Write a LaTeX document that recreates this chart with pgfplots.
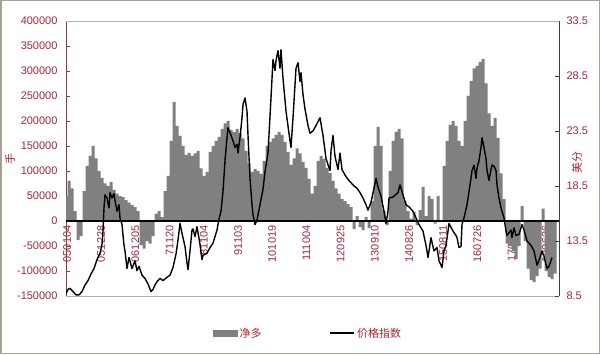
\documentclass[border=0pt]{standalone}
\usepackage{pgfplots}
\pgfplotsset{compat=1.18}
\usepackage{fontspec}
\setmainfont{Liberation Sans}
\newfontfamily\cjk{Noto Sans CJK SC}
\definecolor{tickred}{RGB}{160,40,55}
\definecolor{leftline}{RGB}{140,60,60}
\definecolor{framecol}{RGB}{168,162,148}
\definecolor{bargray}{RGB}{128,128,128}
\begin{document}
\begin{tikzpicture}[x=1pt,y=1pt]
\useasboundingbox (0,0) rectangle (600,354);
\draw[framecol, line width=1.5pt] (0.75,0.75) rectangle (599.25,353.25);
\begin{axis}[
 at={(66pt,58pt)}, anchor=south west, scale only axis, width=493pt, height=275pt,
 xmin=0, xmax=493, ymin=-150000, ymax=400000,
 axis y line*=left, axis x line*=bottom,
 y axis line style={leftline, line width=0.8pt},
 x axis line style={gray!60, line width=0.8pt},
 ytick={-150000,-100000,...,400000},
 scaled y ticks=false,
 yticklabel style={/pgf/number format/fixed, /pgf/number format/1000 sep={}, /pgf/number format/assume math mode=true, text=tickred, font=\fontsize{11}{13}\selectfont, xshift=-5pt},
 xtick={1,35.2,69.4,103.6,137.8,172,206.2,240.4,274.6,308.8,343,377.2,411.4,445.6,479.8},
 xticklabels={050104,051228,061205,71120,81104,91103,101019,111004,120925,130910,140826,150811,160726,170711,180626},
 xticklabel style={rotate=90, anchor=east, text=tickred, font=\fontsize{11}{13}\selectfont},
 xticklabel shift=-74pt,
 x tick style={draw=none},
 tick align=inside, major tick length=4pt,
 y tick style={leftline},
 ylabel={\cjk 手},
 ylabel style={at={(axis description cs:-0.113,0.5)}, anchor=center, text=tickred, font=\fontsize{11}{13}\selectfont},
]
\addplot[ybar, bar width=3, fill=bargray, draw=none, forget plot] coordinates {
(0,50000)(3,80000)(6,65000)(9,20000)(12,-38000)(15,-30000)(18,60000)(21,110000)(24,130000)(27,150000)(30,125000)(33,100000)(36,86000)(39,75000)(42,70000)(45,78000)(48,62000)(51,55000)(54,50000)(57,48000)(60,42000)(63,37000)(66,32000)(69,28000)(72,20000)(75,-48000)(78,-55000)(81,-40000)(84,-45000)(87,-30000)(90,15000)(93,20000)(96,8000)(99,60000)(102,90000)(105,160000)(108,238000)(111,190000)(114,170000)(117,150000)(120,132000)(123,136000)(126,130000)(129,135000)(132,140000)(135,105000)(138,90000)(141,98000)(144,138000)(147,150000)(150,160000)(153,168000)(156,184000)(159,195000)(162,200000)(165,182000)(168,178000)(171,184000)(174,176000)(177,165000)(180,140000)(183,115000)(186,98000)(189,104000)(192,100000)(195,94000)(198,120000)(201,150000)(204,158000)(207,165000)(210,172000)(213,178000)(216,172000)(219,158000)(222,138000)(225,112000)(228,125000)(231,145000)(234,135000)(237,118000)(240,106000)(243,84000)(246,55000)(249,70000)(252,120000)(255,130000)(258,124000)(261,106000)(264,96000)(267,80000)(270,65000)(273,55000)(276,44000)(279,40000)(282,34000)(285,28000)(288,-16000)(291,10000)(294,-12000)(297,-18000)(300,8000)(303,-14000)(306,40000)(309,150000)(312,188000)(315,150000)(318,20000)(321,-8000)(324,100000)(327,160000)(330,178000)(333,184000)(336,165000)(339,40000)(342,20000)(345,5000)(348,18000)(351,-8000)(354,22000)(357,68000)(360,10000)(363,50000)(366,44000)(369,-5000)(372,50000)(375,0)(378,110000)(381,160000)(384,192000)(387,200000)(390,190000)(393,160000)(396,150000)(399,200000)(402,250000)(405,280000)(408,305000)(411,310000)(414,318000)(417,324000)(420,275000)(423,215000)(426,190000)(429,206000)(432,166000)(435,95000)(438,44000)(441,-45000)(444,-50000)(447,-60000)(450,-76000)(453,-50000)(456,30000)(459,-40000)(462,-95000)(465,-118000)(468,-122000)(471,-110000)(474,-95000)(477,25000)(480,-100000)(483,-112000)(486,-116000)(489,-105000)
};
\addplot[black, line width=2.5pt, forget plot] coordinates {(0,0) (493,0)};
\end{axis}
\begin{axis}[
 at={(66pt,58pt)}, anchor=south west, scale only axis, width=493pt, height=275pt,
 xmin=0, xmax=493, ymin=8.5, ymax=33.5,
 axis y line*=right, axis x line*=top,
 y axis line style={black!75, line width=0.8pt},
 x axis line style={gray!60, line width=0.8pt},
 xtick=\empty,
 ytick={8.5,13.5,18.5,23.5,28.5,33.5},
 yticklabel style={/pgf/number format/fixed, /pgf/number format/precision=1, /pgf/number format/fixed zerofill, /pgf/number format/assume math mode=true, text=tickred, font=\fontsize{11}{13}\selectfont, xshift=4pt},
 tick align=inside, major tick length=4pt,
 y tick style={black!75},
 ylabel={\cjk 美分},
 ylabel style={at={(axis description cs:1.0365,0.484)}, anchor=center, text=tickred, font=\fontsize{11}{13}\selectfont},
 legend columns=2,
 legend style={draw=none, fill=none, at={(axis description cs:0.491,-0.135)}, anchor=center, font=\cjk\fontsize{11}{13}\selectfont, text=tickred, /tikz/every even column/.append style={column sep=66pt}},
]
\addlegendimage{legend image code/.code={\fill[bargray] (0pt,-3pt) rectangle (24pt,3pt);}}
\addlegendentry{净多}
\addplot[black, line width=1.4pt, line join=round, legend image code/.code={\draw[black, line width=1.5pt] (0pt,0pt) -- (24pt,0pt);}] coordinates {
(0,8.7)(2,9.1)(4,9.2)(7,8.9)(10,8.6)(13,8.6)(16,8.9)(19,9.5)(22,9.9)(25,10.5)(28,11.0)(31,11.8)(34,12.4)(36,13.2)(37,14.4)(38,16.5)(39,17.7)(41,17.4)(43,16.5)(44,17.9)(46,17.4)(48,17.8)(49,17.2)(51,16.2)(53,16.8)(54,15.6)(56,15.0)(58,13.1)(59,12.6)(61,11.0)(63,12.0)(66,11.0)(69,11.7)(71,10.8)(73,11.2)(76,10.4)(79,10.1)(82,9.6)(85,8.9)(87,9.1)(89,9.5)(91,9.8)(94,10.1)(97,9.9)(101,10.2)(104,10.4)(107,11.1)(110,12.3)(112,13.6)(114,15.1)(116,14.2)(119,13.0)(121,11.5)(122,10.9)(124,12.6)(126,14.5)(127,14.6)(129,13.9)(131,14.8)(134,13.2)(136,11.8)(137,12.2)(141,12.4)(144,12.9)(147,13.3)(151,14.5)(153,15.5)(155,16.2)(157,18.0)(159,20.8)(161,22.9)(162,23.8)(165,23.1)(167,22.6)(169,22.0)(171,22.3)(172,21.5)(174,22.9)(176,24.7)(177,25.9)(179,26.5)(181,25.3)(182,23.1)(184,19.2)(186,16.8)(187,15.9)(189,15.0)(191,15.4)(194,16.8)(197,18.2)(199,19.8)(202,21.5)(205,26.5)(207,30.0)(209,29.0)(210,29.9)(212,30.8)(214,29.2)(215,30.9)(217,28.3)(220,25.3)(224,22.6)(225,22.0)(227,24.7)(230,29.2)(232,29.7)(234,28.0)(235,28.8)(237,26.8)(239,25.5)(242,24.0)(244,23.3)(247,23.5)(250,24.0)(254,24.7)(257,23.1)(260,21.0)(264,19.9)(265,21.7)(267,23.1)(269,21.2)(272,20.0)(274,21.5)(276,20.0)(279,19.5)(282,19.1)(285,18.8)(288,18.5)(291,18.3)(294,17.9)(297,17.4)(300,16.8)(302,16.3)(305,17.0)(308,18.3)(310,19.2)(312,18.4)(315,17.6)(318,16.2)(320,15.1)(322,16.2)(323,17.4)(327,17.5)(332,17.9)(334,18.6)(337,17.7)(340,16.8)(343,16.6)(347,16.2)(350,15.6)(353,15.0)(357,14.4)(360,13.1)(362,12.0)(365,13.8)(368,12.6)(371,12.9)(373,11.7)(376,11.1)(378,12.6)(380,13.1)(382,14.4)(383,15.1)(387,14.4)(390,14.0)(391,13.8)(393,12.9)(395,13.0)(396,15.0)(398,15.6)(401,16.8)(403,18.0)(405,19.2)(406,19.9)(408,20.4)(410,19.2)(411,20.1)(413,20.8)(415,22.0)(416,22.9)(418,22.0)(420,21.0)(421,19.9)(423,19.0)(425,20.0)(426,20.4)(428,20.3)(430,19.9)(431,18.6)(433,17.4)(435,16.5)(438,15.6)(440,14.4)(441,14.0)(445,14.5)(446,13.8)(448,14.7)(450,14.0)(453,14.1)(456,15.0)(458,14.5)(461,13.5)(465,13.1)(468,12.6)(471,11.3)(474,12.0)(476,12.6)(478,12.1)(481,11.0)(483,11.2)(485,11.7)(486,12.0)
};
\addlegendentry{价格指数}
\end{axis}
\end{tikzpicture}
\end{document}
